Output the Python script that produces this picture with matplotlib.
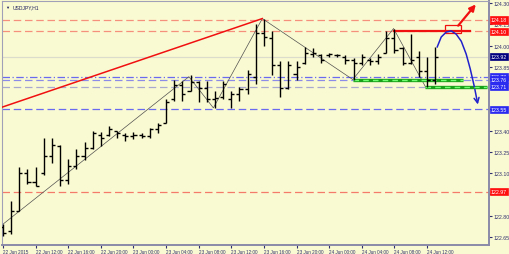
import matplotlib.pyplot as plt
import matplotlib.transforms as mtransforms
import numpy as np

plt.rcParams['font.family'] = ['Liberation Sans', 'DejaVu Sans']

# USDJPY H1 bars, 22 Jun 2015 08:00 .. 24 Jun 2015 13:00
opens = [122.72, 122.69, 122.83, 123.10, 123.04, 123.10, 123.22, 123.29, 123.05, 123.15,
         123.22, 123.28, 123.37, 123.37, 123.40, 123.37, 123.36, 123.37, 123.36, 123.41,
         123.45, 123.62, 123.72, 123.68, 123.74, 123.70, 123.62, 123.64, 123.62, 123.66,
         123.69, 123.78, 124.09, 124.05, 123.86, 123.70, 123.80, 123.88, 123.94, 123.93,
         123.93, 123.93, 123.92, 123.90, 123.88, 123.90, 123.89, 123.95, 124.05, 123.98,
         123.88, 123.92, 123.82, 123.76]
highs = [122.74, 122.90, 123.14, 123.13, 123.14, 123.35, 123.35, 123.30, 123.20, 123.27,
         123.32, 123.40, 123.39, 123.43, 123.40, 123.38, 123.39, 123.38, 123.42, 123.45,
         123.62, 123.76, 123.75, 123.79, 123.75, 123.75, 123.68, 123.75, 123.68, 123.71,
         123.83, 124.15, 124.19, 124.10, 123.89, 123.89, 123.89, 123.99, 123.98, 123.94,
         123.95, 123.94, 123.93, 123.91, 123.94, 123.91, 123.94, 124.10, 124.12, 123.99,
         124.08, 123.96, 123.92, 123.99]
lows = [122.66, 122.67, 122.83, 123.02, 123.01, 123.09, 123.17, 123.01, 123.02, 123.13,
        123.19, 123.27, 123.29, 123.36, 123.35, 123.33, 123.34, 123.35, 123.35, 123.38,
        123.45, 123.61, 123.61, 123.68, 123.60, 123.60, 123.56, 123.62, 123.56, 123.61,
        123.66, 123.73, 124.00, 123.79, 123.64, 123.69, 123.76, 123.87, 123.92, 123.88,
        123.92, 123.92, 123.87, 123.76, 123.86, 123.86, 123.87, 123.95, 123.95, 123.86,
        123.87, 123.78, 123.71, 123.73]
closes = [122.68, 122.83, 123.10, 123.04, 123.01, 123.22, 123.30, 123.05, 123.15, 123.22,
          123.28, 123.38, 123.35, 123.41, 123.38, 123.36, 123.37, 123.36, 123.41, 123.44,
          123.60, 123.72, 123.66, 123.74, 123.70, 123.62, 123.63, 123.73, 123.66, 123.69,
          123.80, 124.09, 124.06, 123.86, 123.70, 123.86, 123.85, 123.95, 123.95, 123.90,
          123.94, 123.93, 123.90, 123.88, 123.92, 123.89, 123.92, 124.05, 123.97, 123.88,
          123.90, 123.82, 123.76, 123.92]

time_labels = ["22 Jun 2015", "22 Jun 12:00", "22 Jun 16:00", "22 Jun 20:00",
               "23 Jun 00:00", "23 Jun 04:00", "23 Jun 08:00", "23 Jun 12:00",
               "23 Jun 16:00", "23 Jun 20:00", "24 Jun 00:00", "24 Jun 04:00",
               "24 Jun 08:00", "24 Jun 12:00"]
price_ticks = [124.30, 124.15, 124.00, 123.85, 123.70, 123.55, 123.40, 123.25,
               123.10, 122.95, 122.80, 122.65]
# these tick labels sit under the coloured price boxes, so they do not show
hidden_ticks = [123.70, 123.55, 122.95]

# zigzag and drawn objects (bar index, price)
zz_x = [0, 22.8, 25.8, 31.8, 42.9, 47.9, 51.8]
zz_y = [122.74, 123.78, 123.56, 124.19, 123.76, 124.12, 123.71]
trend_x = [-0.12, 31.8]
trend_y = [123.565, 124.19]
curve_x = [53.25, 53.74, 54.36, 54.97, 55.58, 56.2, 56.8, 57.3, 57.8]
curve_y = [123.99, 124.06, 124.095, 124.103, 124.08, 124.03, 123.94, 123.835, 123.71]

# horizontal levels: price, colour, dashes
levels = [(124.18, '#f4907c', (6, 3)), (124.10, '#f4907c', (6, 3)),
          (123.78, '#6a6af0', (6, 2, 1, 2)), (123.76, '#8c8ce8', (6, 3)),
          (123.71, '#a8a8d0', (6, 3)), (123.55, '#6a6af0', (6, 3)),
          (122.97, '#f47a6a', (6, 3))]
# price labels on the right: price, box colour
boxes = [(124.18, '#ff1010'), (124.10, '#ff1010'), (123.92, '#000080'),
         (123.78, '#2a2af0'), (123.76, '#2a2af0'), (123.71, '#2a2af0'),
         (123.55, '#2a2af0'), (122.97, '#ff1010')]

bg = '#fafad2'
axc = '#8a8aa8'
txtc = '#303070'

fig = plt.figure(figsize=(5.1, 2.55), dpi=100, facecolor=bg)
ax = fig.add_axes([2 / 510, 9 / 255, 487 / 510, 244 / 255], facecolor=bg)
ax.set_xlim(-0.12, 59.6)
ax.set_ylim(122.593, 124.314)

# current price line
ax.axhline(123.92, color='#dcdccc', lw=0.9, zorder=1)
for p, c, d in levels:
    ax.axhline(p, color=c, lw=0.9, dashes=d, zorder=1)

ax.plot(trend_x, trend_y, color='#f01010', lw=1.1, zorder=3)
ax.plot(zz_x, zz_y, color='#505050', lw=0.5, zorder=2)

# bars (OHLC)
idx = np.arange(len(opens))
ax.vlines(idx, lows, highs, color='black', lw=1.0, zorder=4)
ax.hlines(opens, idx - 0.38, idx, color='black', lw=1.0, zorder=4)
ax.hlines(closes, idx, idx + 0.38, color='black', lw=1.0, zorder=4)

# green support lines
for x0, x1, p in [(42.9, 56.4, 123.76), (51.8, 59.4, 123.71)]:
    ax.plot([x0, x1], [p, p], color='#18a018', lw=2.4, zorder=3, solid_capstyle='butt')
    ax.plot([x0, x1], [p, p], color='#70ff70', lw=1.0, dashes=(4, 3), zorder=3)

# red resistance + box + arrow
ax.plot([47.9, 57.3], [124.105, 124.105], color='#f01010', lw=1.6, zorder=3)
ax.add_patch(plt.Rectangle((54.2, 124.088), 2.0, 0.058, fill=False,
                           edgecolor='#f01010', lw=0.9, zorder=5))
ax.annotate('', xy=(58.2, 124.305), xytext=(55.6, 124.125),
            arrowprops=dict(arrowstyle='-|>', color='#f01010', lw=1.6,
                            mutation_scale=9), zorder=5)

# blue projected path
ax.plot(curve_x, curve_y, color='#2222cc', lw=1.1, zorder=5)
ax.annotate('', xy=(58.3, 123.565), xytext=(57.8, 123.71),
            arrowprops=dict(arrowstyle='->', color='#2222cc', lw=1.1,
                            mutation_scale=9), zorder=5)

# axes styling
for s in ['top', 'left']:
    ax.spines[s].set_color('#a0a0b8')
    ax.spines[s].set_linewidth(0.8)
for s in ['right', 'bottom']:
    ax.spines[s].set_color(axc)
    ax.spines[s].set_linewidth(1.4)

ax.yaxis.tick_right()
ax.set_yticks(price_ticks)
ax.set_yticklabels(['' if p in hidden_ticks else '%.2f' % p for p in price_ticks])
ax.tick_params(axis='y', length=2, width=0.8, color=txtc, labelsize=3.8,
               labelcolor=txtc, pad=1.2)
ax.set_xticks(np.arange(0, 53, 4))
ax.set_xticklabels(time_labels, ha='left')
ax.tick_params(axis='x', length=2, width=0.8, color=txtc, labelsize=3.3,
               labelcolor=txtc, pad=1.2)

trans = mtransforms.blended_transform_factory(ax.transAxes, ax.transData)
for p, c in boxes:
    ax.text(1.004, p, '%.2f' % p, transform=trans, fontsize=3.8, color='white',
            va='center', ha='left', zorder=10, clip_on=False,
            bbox=dict(boxstyle='square,pad=0.2', fc=c, ec=c, lw=0.5))

ax.text(0.007, 0.975, '\u25bc', transform=ax.transAxes, fontsize=3.0,
        color='#202060', va='center', ha='left')
ax.text(0.022, 0.975, 'USDJPY,H1', transform=ax.transAxes, fontsize=3.6,
        color='#202060', va='center', ha='left')

fig.savefig('out.png', dpi=100, facecolor=bg)
